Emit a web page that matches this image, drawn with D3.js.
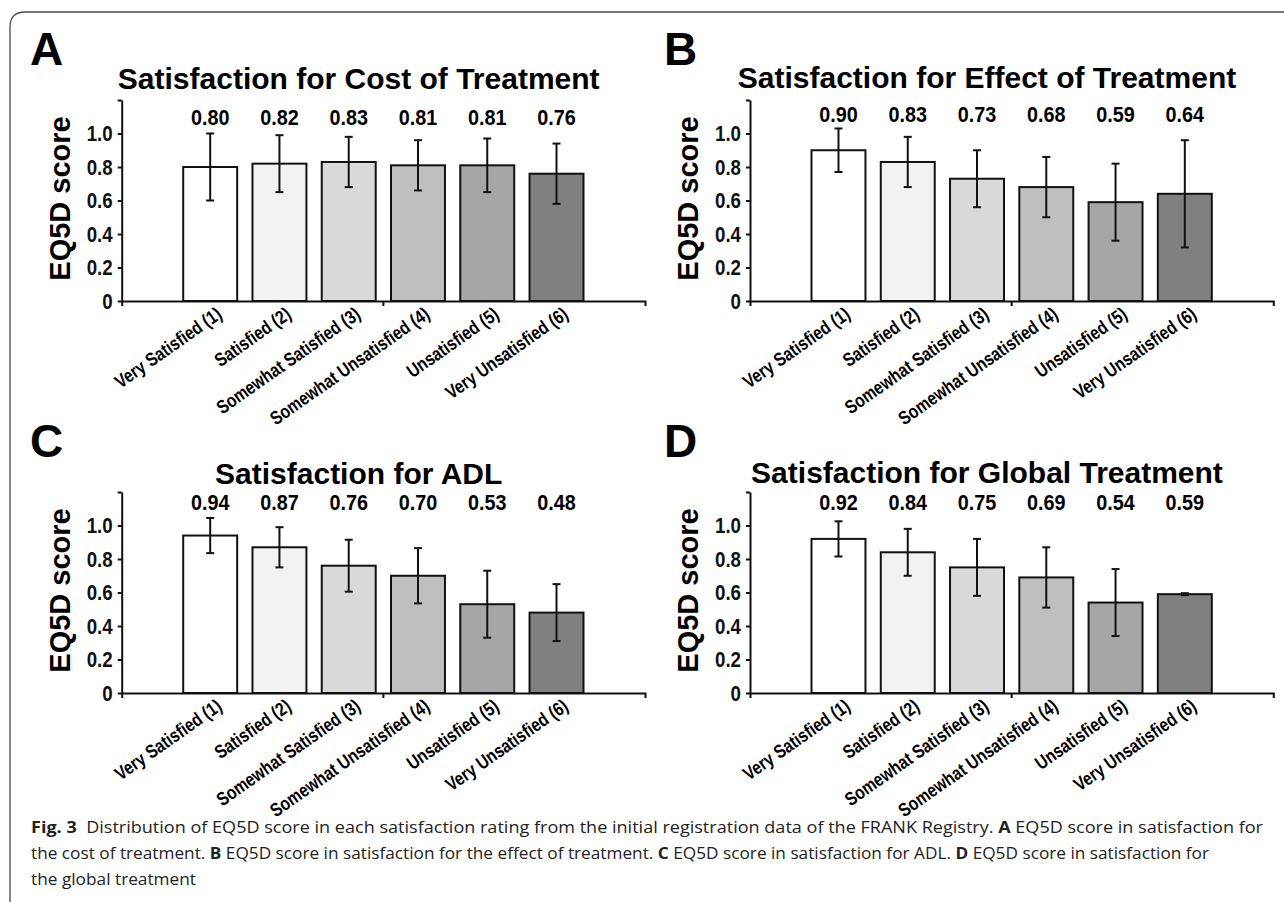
<!DOCTYPE html>
<html>
<head>
<meta charset="utf-8">
<script src="https://cdn.jsdelivr.net/npm/d3@7"></script>
<style>
  body { margin: 0; background: #fff; }
  svg { display: block; }
</style>
</head>
<body>
<div id="chart"></div>
<script>
// categories and values
const categories = [
  'Very Satisfied (1)', 'Satisfied (2)', 'Somewhat Satisfied (3)',
  'Somewhat Unsatisfied (4)', 'Unsatisfied (5)', 'Very Unsatisfied (6)',
];
const costMeans = [0.80, 0.82, 0.83, 0.81, 0.81, 0.76];
const costErr = [0.20, 0.17, 0.15, 0.15, 0.16, 0.18];
const effectMeans = [0.90, 0.83, 0.73, 0.68, 0.59, 0.64];
const effectErr = [0.13, 0.15, 0.17, 0.18, 0.23, 0.32];
const adlMeans = [0.94, 0.87, 0.76, 0.70, 0.53, 0.48];
const adlErr = [0.105, 0.12, 0.155, 0.165, 0.20, 0.17];
const globalMeans = [0.92, 0.84, 0.75, 0.69, 0.54, 0.59];
const globalErr = [0.105, 0.14, 0.17, 0.18, 0.20, 0.006];
const yTicks = [0, 0.2, 0.4, 0.6, 0.8, 1.0, 1.2];
const yTickLabels = ['0', '0.2', '0.4', '0.6', '0.8', '1.0', ''];

const barColors = ['#ffffff', '#f2f2f2', '#d9d9d9', '#bfbfbf', '#a6a6a6', '#808080'];

const width = 1284;
const height = 902;

const panels = [
  { letter: 'A', title: 'Satisfaction for Cost of Treatment', means: costMeans, errs: costErr,
    dx: 0, dy: 0, letterX: 30, letterY: 65, titleY: 89, valueY: 125 },
  { letter: 'B', title: 'Satisfaction for Effect of Treatment', means: effectMeans, errs: effectErr,
    dx: 628.3, dy: 0, letterX: 664, letterY: 65, titleY: 88, valueY: 122 },
  { letter: 'C', title: 'Satisfaction for ADL', means: adlMeans, errs: adlErr,
    dx: 0, dy: 392, letterX: 30, letterY: 457, titleY: 484, valueY: 510 },
  { letter: 'D', title: 'Satisfaction for Global Treatment', means: globalMeans, errs: globalErr,
    dx: 628.3, dy: 392, letterX: 664, letterY: 457, titleY: 483, valueY: 510 },
];

const svg = d3.select('#chart')
  .append('svg')
  .attr('width', width)
  .attr('height', height)
  .style('font-family', '"Liberation Sans", Arial, sans-serif');

// page frame (top and left edge, rounded corner)
svg.append('path')
  .attr('d', `M10,${height} L10,27 Q10,12 25,12 L${width},12`)
  .attr('fill', 'none')
  .attr('stroke', '#4a4a4a')
  .attr('stroke-width', 1.3);

panels.forEach((p) => {
  const left = 121.7 + p.dx;
  const right = 645 + p.dx;
  const bottom = 301 + p.dy;
  const top = 100 + p.dy;

  const x = d3.scaleBand()
    .domain(categories)
    .range([left, right])
    .paddingInner(0.221)
    .paddingOuter(0.888);

  const y = d3.scaleLinear()
    .domain([0, 1.2])
    .range([bottom, top]);

  const g = svg.append('g');
  const cx = (i) => x(categories[i]) + x.bandwidth() / 2;

  // panel letter
  g.append('text')
    .attr('x', p.letterX)
    .attr('y', p.letterY)
    .style('font-size', '46px')
    .style('font-weight', 'bold')
    .text(p.letter);

  // title
  g.append('text')
    .attr('x', left + 237)
    .attr('y', p.titleY)
    .attr('text-anchor', 'middle')
    .style('font-size', '30px')
    .style('font-weight', 'bold')
    .text(p.title);

  // y label
  g.append('text')
    .attr('transform', `translate(${left - 52},${(top + bottom) / 2 - 2}) rotate(-90)`)
    .attr('text-anchor', 'middle')
    .style('font-size', '29px')
    .style('font-weight', 'bold')
    .text('EQ5D score');

  // bars
  g.selectAll('rect.bar')
    .data(p.means)
    .enter()
    .append('rect')
    .attr('class', 'bar')
    .attr('x', (d, i) => x(categories[i]))
    .attr('y', (d) => y(d))
    .attr('width', x.bandwidth())
    .attr('height', (d) => y(0) - y(d))
    .attr('fill', (d, i) => barColors[i])
    .attr('stroke', '#111')
    .attr('stroke-width', 2);

  // error bars
  const eb = g.selectAll('g.err')
    .data(p.means)
    .enter()
    .append('g')
    .attr('class', 'err')
    .attr('stroke', '#111')
    .attr('stroke-width', 2);
  eb.append('line')
    .attr('x1', (d, i) => cx(i))
    .attr('x2', (d, i) => cx(i))
    .attr('y1', (d, i) => y(d - p.errs[i]))
    .attr('y2', (d, i) => y(d + p.errs[i]));
  eb.append('line')
    .attr('x1', (d, i) => cx(i) - 4)
    .attr('x2', (d, i) => cx(i) + 4)
    .attr('y1', (d, i) => y(d + p.errs[i]))
    .attr('y2', (d, i) => y(d + p.errs[i]));
  eb.append('line')
    .attr('x1', (d, i) => cx(i) - 4)
    .attr('x2', (d, i) => cx(i) + 4)
    .attr('y1', (d, i) => y(d - p.errs[i]))
    .attr('y2', (d, i) => y(d - p.errs[i]));

  // value labels above
  g.selectAll('text.val')
    .data(p.means)
    .enter()
    .append('text')
    .attr('class', 'val')
    .attr('transform', (d, i) => `translate(${cx(i)},${p.valueY}) scale(0.9,1)`)
    .attr('text-anchor', 'middle')
    .style('font-size', '22px')
    .style('font-weight', 'bold')
    .text((d) => d.toFixed(2));

  // y axis
  const yAxis = g.append('g')
    .attr('transform', `translate(${left},0)`)
    .call(
      d3.axisLeft(y)
        .tickValues(yTicks)
        .tickFormat((d, i) => yTickLabels[i])
        .tickSize(4)
        .tickPadding(5)
        .tickSizeOuter(0),
    );
  yAxis.select('.domain').attr('stroke', '#111').attr('stroke-width', 2);
  yAxis.selectAll('.tick line').attr('stroke', '#111').attr('stroke-width', 2);
  yAxis.selectAll('.tick text')
    .attr('transform', 'scale(0.85,1)')
    .attr('x', -9 / 0.85)
    .attr('fill', '#111')
    .style('font-size', '22px')
    .style('font-weight', 'bold')
    .style('font-family', '"Liberation Sans", Arial, sans-serif');

  // x axis
  const xAxis = g.append('g')
    .attr('transform', `translate(0,${bottom})`)
    .call(d3.axisBottom(x).tickSize(0).tickSizeOuter(5).tickFormat(''));
  xAxis.select('.domain').attr('stroke', '#111').attr('stroke-width', 2);
  xAxis.append('line')
    .attr('x1', (left + right) / 2)
    .attr('x2', (left + right) / 2)
    .attr('y1', 0)
    .attr('y2', 5)
    .attr('stroke', '#111')
    .attr('stroke-width', 2);

  // category labels
  g.selectAll('text.cat')
    .data(categories)
    .enter()
    .append('text')
    .attr('class', 'cat')
    .attr('transform', (d) =>
      `translate(${x(d) + x.bandwidth() / 2 + 13},${bottom + 16}) rotate(-35) scale(0.82,1)`)
    .attr('text-anchor', 'end')
    .style('font-size', '19px')
    .style('font-weight', 'bold')
    .text((d) => d);
});

// caption
const captionLines = [
  [['Fig. 3', true], ['  Distribution of EQ5D score in each satisfaction rating from the initial registration data of the FRANK Registry. ', false],
   ['A', true], [' EQ5D score in satisfaction for', false]],
  [['the cost of treatment. ', false], ['B', true], [' EQ5D score in satisfaction for the effect of treatment. ', false],
   ['C', true], [' EQ5D score in satisfaction for ADL. ', false], ['D', true], [' EQ5D score in satisfaction for', false]],
  [['the global treatment', false]],
];
const captionWidths = [1232, 1178, 165];

captionLines.forEach((line, li) => {
  const t = svg.append('text')
    .attr('x', 31)
    .attr('y', 833 + li * 26)
    .attr('textLength', captionWidths[li])
    .attr('lengthAdjust', 'spacingAndGlyphs')
    .style('white-space', 'pre')
    .style('font-family', '"Open Sans", "Noto Sans", sans-serif')
    .style('font-size', '15.5px')
    .attr('fill', '#222');
  line.forEach(([s, bold]) => {
    t.append('tspan')
      .style('font-weight', bold ? 'bold' : 'normal')
      .text(s);
  });
});
</script>
</body>
</html>
